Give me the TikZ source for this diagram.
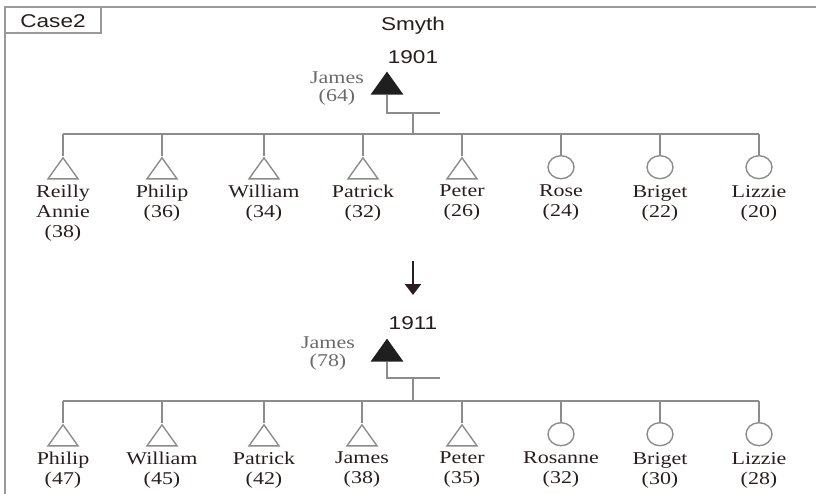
\documentclass[tikz,border=0pt]{standalone}
\usepackage{fontspec}
\setmainfont[FakeStretch=1.22]{Liberation Serif}
\newfontfamily\gsans[FakeStretch=1.22]{Liberation Sans}
\usetikzlibrary{shapes.geometric,arrows.meta}
\definecolor{ln}{HTML}{8C8C8C}
\definecolor{tx}{HTML}{2A1C1C}
\definecolor{jm}{HTML}{6A6A6A}
\definecolor{fr}{HTML}{9A9A9A}
\begin{document}
\begin{tikzpicture}[x=1pt,y=-1pt,
  male/.style={isosceles triangle, shape border rotate=90, isosceles triangle stretches,
    minimum width=30pt, minimum height=21pt, inner sep=0pt, draw=ln, line width=1.4pt},
  pmale/.style={male, fill=black!88, draw=black!88},
  female/.style={ellipse, minimum width=26pt, minimum height=23pt, inner sep=0pt, draw=ln, line width=1.4pt},
  lbl/.style={text=tx, font=\fontsize{18}{20}\selectfont, align=center, anchor=north, inner sep=0pt},
  plbl/.style={text=jm, font=\fontsize{18}{18}\selectfont, align=center, inner sep=0pt},
  hd/.style={text=tx, font=\gsans\fontsize{18.5}{20}\selectfont, inner sep=0pt},
  con/.style={draw=ln, line width=1.4pt}]
\useasboundingbox (0,0) rectangle (816,494);
% frame
\draw[fr, line width=2pt] (5,494) -- (5,7) -- (816,7);
\draw[fr, line width=1.2pt] (5,7) rectangle (101,33);
\node[hd] (case) at (53,21) {Case2};
\node[hd] (smyth) at (413,26) {Smyth};

% ---------- 1901 ----------
\node[hd] (y1) at (413,57) {1901};
\node[pmale, anchor=apex] (p1) at (387,71) {};
\node[plbl] (pl1) at (337,89) {James\\(64)};
\coordinate (e1) at (440,113);
\coordinate (m1) at (413,113);
\coordinate (s1) at (413,134);
\coordinate (sl1) at (63,134);
\coordinate (sr1) at (759,134);
\draw[con] (p1.lower side) |- (e1);
\draw[con] (m1) -- (s1);
\draw[con] (sl1) -- (sr1);

\node[male, anchor=apex] (a1) at (63,156) {};
\node[male, anchor=apex] (a2) at (162,156) {};
\node[male, anchor=apex] (a3) at (264,156) {};
\node[male, anchor=apex] (a4) at (363,156) {};
\node[male, anchor=apex] (a5) at (462,156) {};
\node[female, anchor=north] (a6) at (561,155) {};
\node[female, anchor=north] (a7) at (660,155) {};
\node[female, anchor=north] (a8) at (759,155) {};
\foreach \n in {a1,a2,a3,a4,a5}{\draw[con] (\n.apex) -- (\n.apex |- s1);}
\foreach \n in {a6,a7,a8}{\draw[con] (\n.north) -- (\n.north |- s1);}

\node[lbl] (la1) at (63,185) {Reilly\\Annie\\(38)};
\node[lbl] (la2) at (162,185) {Philip\\(36)};
\node[lbl] (la3) at (264,185) {William\\(34)};
\node[lbl] (la4) at (363,185) {Patrick\\(32)};
\node[lbl] (la5) at (462,185) {Peter\\(26)};
\node[lbl] (la6) at (561,185) {Rose\\(24)};
\node[lbl] (la7) at (660,185) {Briget\\(22)};
\node[lbl] (la8) at (759,185) {Lizzie\\(20)};

% arrow
\coordinate (ar1) at (413,261);
\coordinate (ar2) at (413,295);
\draw[tx, line width=2.4pt, -{Triangle[width=16pt,length=11pt]}] (ar1) -- (ar2);

% ---------- 1911 ----------
\node[hd] (y2) at (413,323) {1911};
\node[pmale, anchor=apex] (p2) at (387,338) {};
\node[plbl] (pl2) at (328,354) {James\\(78)};
\coordinate (e2) at (440,378);
\coordinate (m2) at (413,378);
\coordinate (s2) at (413,401);
\coordinate (sl2) at (63,401);
\coordinate (sr2) at (759,401);
\draw[con] (p2.lower side) |- (e2);
\draw[con] (m2) -- (s2);
\draw[con] (sl2) -- (sr2);

\node[male, anchor=apex] (b1) at (63,423) {};
\node[male, anchor=apex] (b2) at (162,423) {};
\node[male, anchor=apex] (b3) at (264,423) {};
\node[male, anchor=apex] (b4) at (362,423) {};
\node[male, anchor=apex] (b5) at (462,423) {};
\node[female, anchor=north] (b6) at (561,422) {};
\node[female, anchor=north] (b7) at (660,422) {};
\node[female, anchor=north] (b8) at (759,422) {};
\foreach \n in {b1,b2,b3,b4,b5}{\draw[con] (\n.apex) -- (\n.apex |- s2);}
\foreach \n in {b6,b7,b8}{\draw[con] (\n.north) -- (\n.north |- s2);}

\node[lbl] (lb1) at (63,452) {Philip\\(47)};
\node[lbl] (lb2) at (162,452) {William\\(45)};
\node[lbl] (lb3) at (264,452) {Patrick\\(42)};
\node[lbl] (lb4) at (362,452) {James\\(38)};
\node[lbl] (lb5) at (462,452) {Peter\\(35)};
\node[lbl] (lb6) at (561,452) {Rosanne\\(32)};
\node[lbl] (lb7) at (660,452) {Briget\\(30)};
\node[lbl] (lb8) at (759,452) {Lizzie\\(28)};
\end{tikzpicture}
\end{document}
